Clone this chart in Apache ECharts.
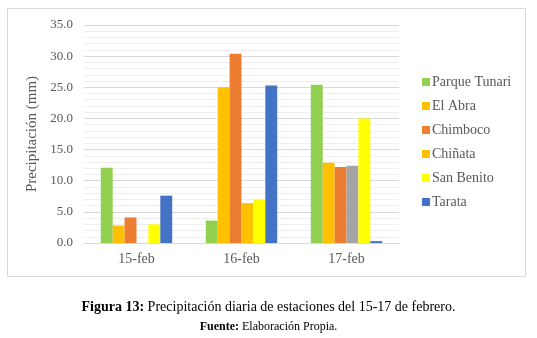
<!DOCTYPE html>
<html>
<head>
<meta charset="utf-8">
<script src="https://cdn.jsdelivr.net/npm/echarts@6/dist/echarts.min.js"></script>
<style>
html, body { margin: 0; padding: 0; background: #fff; }
#main { width: 537px; height: 338px; }
</style>
</head>
<body>
<div id="main"></div>
<script>
var dias = ['15-feb', '16-feb', '17-feb'];
var estaciones = ['Parque Tunari', 'El Abra', 'Chimboco', 'Chiñata', 'San Benito', 'Tarata'];
var parqueTunari = [12.1, 3.6, 25.4];
var elAbra = [2.8, 25.0, 12.9];
var chimboco = [4.1, 30.4, 12.2];
var chinata = [null, 6.4, 12.4];
var sanBenito = [3.0, 7.0, 20.0];
var tarata = [7.6, 25.3, 0.3];
var yTicks = [0, 35, 5];

var colores = ['#92d050', '#ffc000', '#ed7d31', '#ffc000', '#ffff00', '#4472c4'];
var valores = [parqueTunari, elAbra, chimboco, chinata, sanBenito, tarata];
var serif = '"Liberation Serif", "DejaVu Serif", serif';

var myChart = echarts.init(document.getElementById('main'));

var series = estaciones.map(function (nombre, i) {
	var datos = valores[i].slice();
	if (nombre === 'Chiñata') {
		// el punto del 17-feb sale en gris en el original
		datos[2] = { value: datos[2], itemStyle: { color: '#a5a5a5' } };
	}
	return {
		name: nombre,
		type: 'bar',
		data: datos,
		barGap: '0%',
		barCategoryGap: '32%',
		itemStyle: { color: colores[i] }
	};
});

var option = {
	animation: false,
	textStyle: { fontFamily: serif },
	graphic: [{
		type: 'rect',
		shape: { x: 7.5, y: 8.5, width: 518, height: 268 },
		style: { fill: 'none', stroke: '#d9d9d9', lineWidth: 1 }
	}],
	title: [{
		text: '{b|Figura 13:} Precipitación diaria de estaciones del 15-17 de febrero.',
		left: 'center',
		top: 295,
		textStyle: {
			fontFamily: serif,
			fontSize: 14,
			fontWeight: 'normal',
			color: '#000',
			rich: {
				b: { fontFamily: serif, fontSize: 14, fontWeight: 'bold', color: '#000' }
			}
		}
	}, {
		text: '{b|Fuente:} Elaboración Propia.',
		left: 'center',
		top: 316,
		textStyle: {
			fontFamily: serif,
			fontSize: 12,
			fontWeight: 'normal',
			color: '#000',
			rich: {
				b: { fontFamily: serif, fontSize: 12, fontWeight: 'bold', color: '#000' }
			}
		}
	}],
	legend: {
		orient: 'vertical',
		left: 422,
		top: 75,
		padding: 0,
		itemWidth: 8,
		itemHeight: 8,
		itemGap: 10,
		icon: 'rect',
		textStyle: { fontFamily: serif, fontSize: 14, color: '#595959', padding: [0, 0, 0, -3] },
		data: estaciones.map(function (n, i) {
			return { name: n, itemStyle: { color: colores[i] } };
		})
	},
	grid: {
		left: 84,
		right: 138,
		top: 25,
		bottom: 95
	},
	xAxis: {
		type: 'category',
		data: dias,
		axisTick: { show: false },
		axisLine: { lineStyle: { color: '#d9d9d9' } },
		axisLabel: { fontFamily: serif, fontSize: 14, color: '#595959', margin: 9 }
	},
	yAxis: {
		type: 'value',
		min: yTicks[0],
		max: yTicks[1],
		interval: yTicks[2],
		name: 'Precipitación (mm)',
		nameLocation: 'middle',
		nameGap: 40,
		nameTextStyle: { fontFamily: serif, fontSize: 15, color: '#595959' },
		axisLabel: {
			fontFamily: serif,
			fontSize: 13,
			color: '#595959',
			margin: 11,
			formatter: function (v) { return v.toFixed(1); }
		},
		splitLine: { lineStyle: { color: '#d9d9d9' } },
		minorTick: { show: false, splitNumber: 5 },
		minorSplitLine: { show: true, lineStyle: { color: '#efefef' } }
	},
	series: series
};
myChart.setOption(option);
</script>
</body>
</html>
